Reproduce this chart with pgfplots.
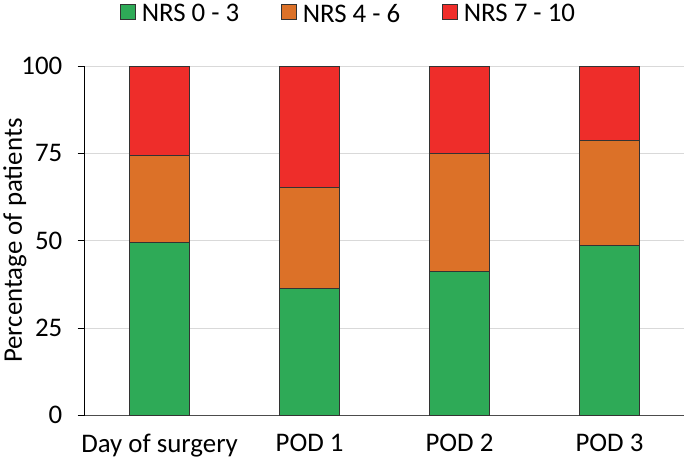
\documentclass[border=0pt]{standalone}
\usepackage{fontspec}
\setmainfont{Carlito}
\usepackage{pgfplots}
\pgfplotsset{compat=1.18}
\definecolor{nrsgreen}{HTML}{2EAA57}
\definecolor{nrsorange}{HTML}{DC7128}
\definecolor{nrsred}{HTML}{EE2D2A}
\definecolor{edge}{HTML}{333333}

\begin{document}
\begin{tikzpicture}
\begin{axis}[
  width=603pt, height=351pt, scale only axis,
  font=\fontsize{27}{31}\selectfont,
  ybar stacked, bar width=0.4,
  xmin=-0.5, xmax=3.5, ymin=0, ymax=100,
  xtick=data,
  xticklabels={Day of surgery, POD 1, POD 2, POD 3},
  ytick={0,25,50,75,100},
  /pgf/number format/assume math mode=true,
  axis x line*=bottom, axis y line*=left,
  x axis line style={draw=black!70, line width=1.2pt},
  y axis line style={draw=black, line width=1pt},
  xtick style={draw=none},
  ytick style={draw=black, line width=1pt},
  tick align=outside, major tick length=7pt,
  ymajorgrids, grid style={black!15, line width=0.8pt},
  yticklabel style={xshift=-12pt},
  xticklabel style={yshift=-8pt},
  ylabel={Percentage of patients},
  ylabel style={yshift=-12pt},
  every axis plot/.append style={draw=edge, line width=1pt},
  legend style={at={(0.44,1.11)}, anchor=south, legend columns=-1,
    draw=none, fill=none, font=\fontsize{27}{31}\selectfont,
    /tikz/every odd column/.append style={column sep=4pt},
    /tikz/every even column/.append style={column sep=40pt}},
  legend image code/.code={\draw[#1, line width=0.8pt] (0pt,-6pt) rectangle (15pt,9pt);},
]
\addplot[fill=nrsgreen] coordinates {(0,49.6) (1,36.4) (2,41.3) (3,48.7)};
\addplot[fill=nrsorange] coordinates {(0,24.7) (1,28.9) (2,33.7) (3,30.1)};
\addplot[fill=nrsred] coordinates {(0,25.7) (1,34.7) (2,25.0) (3,21.2)};
\legend{NRS 0 - 3, NRS 4 - 6, NRS 7 - 10}
\end{axis}
\end{tikzpicture}
\end{document}
